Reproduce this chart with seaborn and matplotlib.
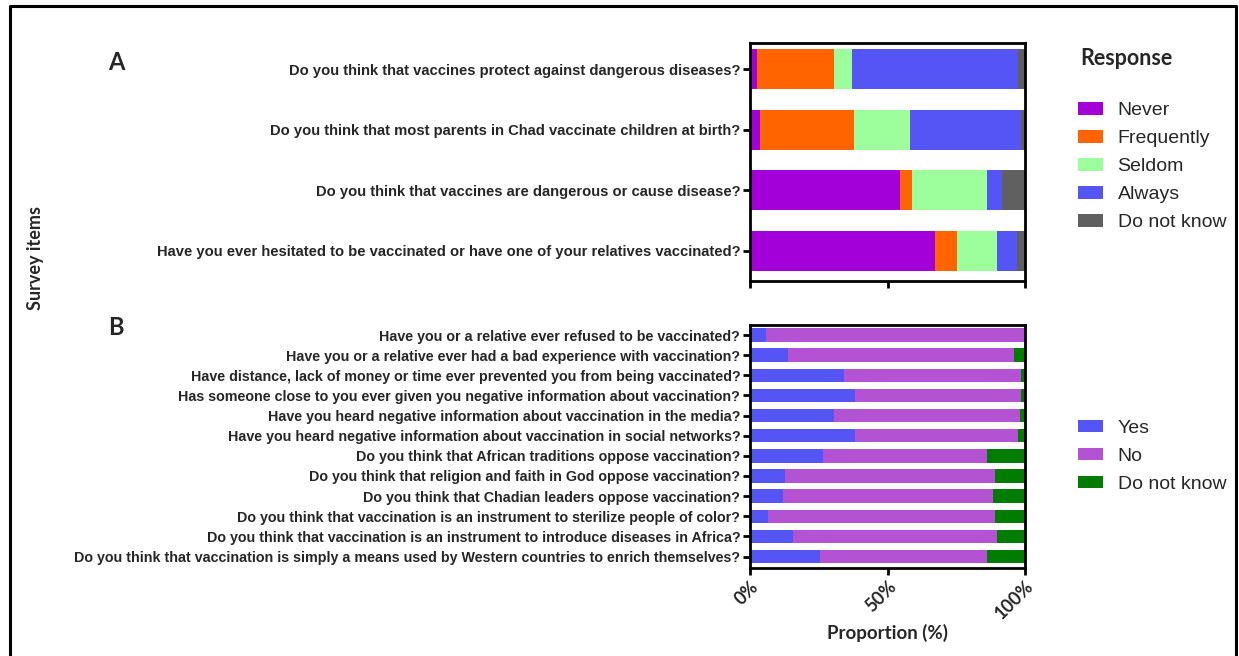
import matplotlib
matplotlib.use("Agg")
import matplotlib.pyplot as plt
from matplotlib.patches import Patch
from matplotlib.lines import Line2D
import numpy as np
import pandas as pd
import seaborn as sns

# ---- Panel A: attitude items (percent of respondents) ----
items_a = [
    "Do you think that vaccines protect against dangerous diseases?",
    "Do you think that most parents in Chad vaccinate children at birth?",
    "Do you think that vaccines are dangerous or cause disease?",
    "Have you ever hesitated to be vaccinated or have one of your relatives vaccinated?",
]
responses_a = ["Never", "Frequently", "Seldom", "Always", "Do not know"]
never_a = [2.4, 3.8, 54.5, 67.4]
frequently_a = [28.0, 34.1, 4.4, 7.8]
seldom_a = [6.7, 20.2, 27.3, 14.5]
always_a = [60.2, 40.3, 5.6, 7.4]
dontknow_a = [2.7, 1.6, 8.2, 2.9]
colors_a = ["#A300D9", "#FF6400", "#9CFF9C", "#5555F5", "#606060"]

# ---- Panel B: yes / no items ----
items_b = [
    "Have you or a relative ever refused to be vaccinated?",
    "Have you or a relative ever had a bad experience with vaccination?",
    "Have distance, lack of money or time ever prevented you from being vaccinated?",
    "Has someone close to you ever given you negative information about vaccination?",
    "Have you heard negative information about vaccination in the media?",
    "Have you heard negative information about vaccination in social networks?",
    "Do you think that African traditions oppose vaccination?",
    "Do you think that religion and faith in God oppose vaccination?",
    "Do you think that Chadian leaders oppose vaccination?",
    "Do you think that vaccination is an instrument to sterilize people of color?",
    "Do you think that vaccination is an instrument to introduce diseases in Africa?",
    "Do you think that vaccination is simply a means used by Western countries to enrich themselves?",
]
responses_b = ["Yes", "No", "Do not know"]
yes_b = [5.8, 13.7, 34.2, 38.0, 30.5, 38.0, 26.5, 12.7, 11.9, 6.7, 15.6, 25.5]
no_b = [94.2, 82.3, 64.5, 60.5, 67.6, 59.4, 59.5, 76.4, 76.4, 82.4, 74.3, 60.5]
dontknow_b = [0.0, 4.0, 1.3, 1.5, 1.9, 2.6, 14.0, 10.9, 11.7, 10.9, 10.1, 14.0]
colors_b = ["#5555F5", "#B452D4", "#007D00"]

sns.set_theme(style="white")
plt.rcParams["font.family"] = ["Liberation Sans", "DejaVu Sans"]

fig = plt.figure(figsize=(12.39, 6.56), dpi=100)
ax_a = fig.add_axes([750 / 1239, 1 - 281 / 656, 275 / 1239, 238 / 656])
ax_b = fig.add_axes([750 / 1239, 1 - 568 / 656, 275 / 1239, 243 / 656])


def stacked(ax, items, series, names, colors, height):
    df = pd.DataFrame({n: s for n, s in zip(names, series)})
    df["item"] = items
    cum = df[names].cumsum(axis=1)
    # draw from the longest cumulative bar down so each segment stays visible
    for name, color in reversed(list(zip(names, colors))):
        sns.barplot(x=cum[name], y=df["item"], orient="h", color=color,
                    width=height, saturation=1, edgecolor="none", ax=ax)


stacked(ax_a, items_a, [never_a, frequently_a, seldom_a, always_a, dontknow_a],
        responses_a, colors_a, 0.66)
stacked(ax_b, items_b, [yes_b, no_b, dontknow_b], responses_b, colors_b, 0.67)

ax_a.set_ylim(3.5, -0.43)
ax_b.set_ylim(11.57, -0.5)

for ax in (ax_a, ax_b):
    ax.set_xlim(0, 100)
    ax.set_xticks([0, 50, 100])
    ax.set_xlabel("")
    ax.set_ylabel("")
    for sp in ax.spines.values():
        sp.set_visible(True)
        sp.set_color("black")
        sp.set_linewidth(2.0)
    ax.tick_params(axis="both", direction="out", length=5, width=2.0,
                   color="black", left=True, bottom=True, pad=2)

ax_a.set_xticklabels([])
ax_a.tick_params(axis="y", labelsize=10.6)
ax_b.tick_params(axis="y", labelsize=10.3)
for lab in ax_a.get_yticklabels() + ax_b.get_yticklabels():
    lab.set_fontweight("bold")

ax_b.set_xticklabels(["0%", "50%", "100%"], rotation=45, ha="right", va="top",
                     rotation_mode="anchor", fontsize=13, fontweight="bold",
                     family="Lato")
ax_b.set_xlabel("Proportion (%)", fontsize=13.5, fontweight="bold", family="Lato",
                labelpad=1)

fig.text(35 / 1239, 1 - 258 / 656, "Survey items", rotation=90, ha="center",
         va="center", fontsize=13, fontweight="bold", family="Lato")
fig.text(116 / 1239, 1 - 62 / 656, "A", ha="center", va="center",
         fontsize=17, fontweight="bold", family="Lato")
fig.text(116 / 1239, 1 - 327 / 656, "B", ha="center", va="center",
         fontsize=17, fontweight="bold", family="Lato")

leg_kw = dict(loc="upper left", frameon=False, fontsize=14, borderpad=0,
              handlelength=1.3, handleheight=0.62, handletextpad=0.75,
              labelspacing=0.56, bbox_transform=fig.transFigure)

handles_a = [Patch(facecolor=c, edgecolor="none", label=n)
             for n, c in zip(responses_a, colors_a)]
leg_a = fig.legend(handles=handles_a, bbox_to_anchor=(1068 / 1239, 1 - 38 / 656),
                   title="Response", alignment="left", **leg_kw)
leg_a.get_title().set_fontweight("bold")
leg_a.get_title().set_fontfamily("Lato")
leg_a.get_title().set_fontsize(15.5)
leg_a.get_title().set_x(3)
leg_a._legend_box.sep = 24

handles_b = [Patch(facecolor=c, edgecolor="none", label=n)
             for n, c in zip(responses_b, colors_b)]
fig.legend(handles=handles_b, bbox_to_anchor=(1068 / 1239, 1 - 410 / 656),
           **leg_kw)

# outer frame around the whole figure (open at the bottom)
fx0, fx1, fy1 = 10 / 1239, 1236 / 1239, 1 - 6 / 656
fig.add_artist(Line2D([fx0, fx0, fx1, fx1], [0, fy1, fy1, 0],
                      transform=fig.transFigure, color="black", lw=2.2))

fig.savefig("out.png", dpi=100, facecolor="white")
